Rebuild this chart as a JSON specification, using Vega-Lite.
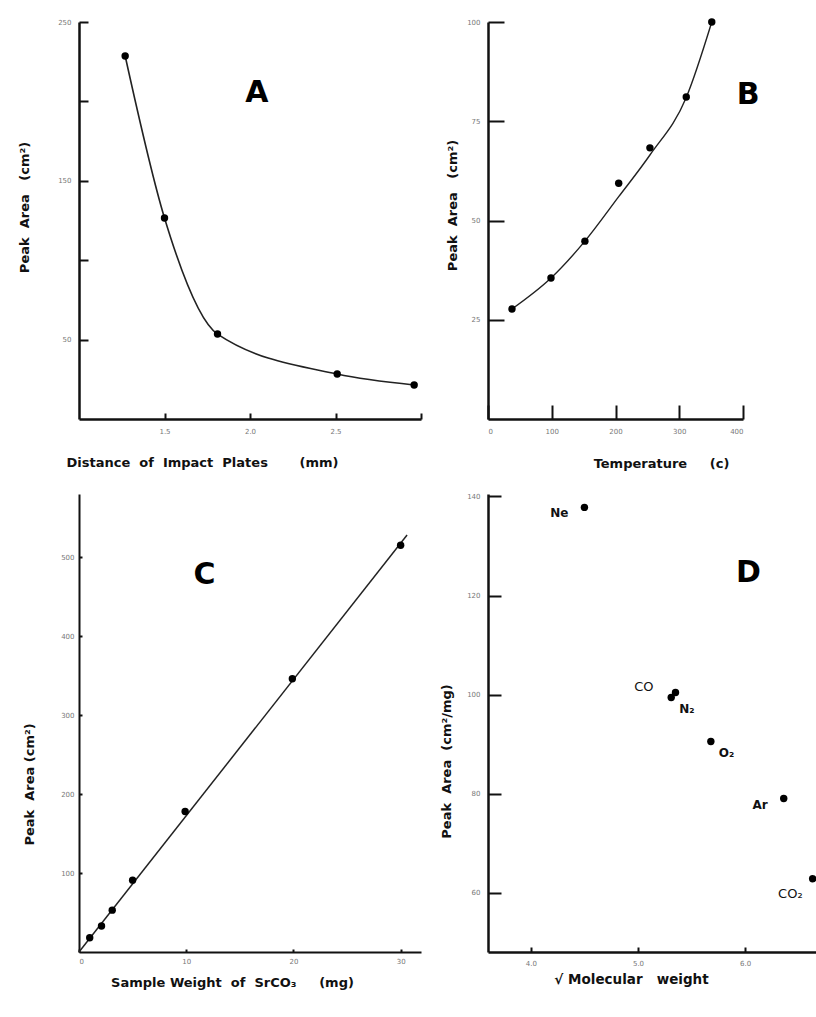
{
  "$schema": "https://vega.github.io/schema/vega-lite/v6.json",
  "autosize": {"type": "pad"},
  "padding": {"left": 18, "top": 18, "right": 0, "bottom": 5},
  "background": "white",
  "bounds": "flush",
  "align": "each",
  "columns": 2,
  "spacing": {"column": 67, "row": 75},
  "config": {
    "view": {"stroke": null},
    "axis": {
      "grid": false,
      "domainColor": "#111",
      "domainWidth": 2.5,
      "tickColor": "#111",
      "tickWidth": 2,
      "labelFont": "DejaVu Sans",
      "labelFontSize": 7,
      "labelColor": "#777",
      "titleFont": "DejaVu Sans",
      "titleFontWeight": "bold",
      "titleFontSize": 13,
      "titleColor": "#111",
      "titleAlign": "center",
      "titleBaseline": "middle"
    },
    "text": {"font": "DejaVu Sans"}
  },
  "concat": [
    {
      "width": 342,
      "height": 397,
      "layer": [
        {
          "data": {"values": [
            {"d": 1.27, "a": 228.6}, {"d": 1.5, "a": 126.6}, {"d": 1.81, "a": 53.5}, {"d": 2.51, "a": 28.3}, {"d": 2.96, "a": 21.4}
          ]},
          "mark": {"type": "line", "interpolate": "monotone", "color": "#222", "strokeWidth": 1.6},
          "encoding": {
            "x": {"field": "d", "type": "quantitative", "scale": {"domain": [1, 3], "nice": false},
              "axis": {"values": [1.5, 2, 2.5, 3], "tickSize": -6, "labelPadding": 14, "labelExpr": "datum.value == 3 ? '' : format(datum.value, '.1f')",
                "title": "Distance\u00a0\u00a0of\u00a0\u00a0Impact\u00a0\u00a0Plates\u00a0\u00a0\u00a0\u00a0\u00a0\u00a0\u00a0(mm)", "titleX": 123, "titleY": 43}},
            "y": {"field": "a", "type": "quantitative", "scale": {"domain": [0, 250], "nice": false},
              "axis": {"values": [50, 100, 150, 200, 250], "tickSize": -9, "labelPadding": 17, "labelExpr": "datum.value % 100 == 50 ? datum.label : ''",
                "title": "Peak\u00a0\u00a0Area\u00a0\u00a0\u00a0(cm²)", "titleX": -55, "titleY": 185}}
          }
        },
        {
          "data": {"values": [
            {"d": 1.27, "a": 228.6}, {"d": 1.5, "a": 126.6}, {"d": 1.81, "a": 53.5}, {"d": 2.51, "a": 28.3}, {"d": 2.96, "a": 21.4}
          ]},
          "mark": {"type": "point", "filled": true, "color": "#000", "opacity": 1, "size": 55},
          "encoding": {"x": {"field": "d", "type": "quantitative"}, "y": {"field": "a", "type": "quantitative"}}
        },
        {
          "data": {"values": [{"d": 2.04, "a": 205, "t": "A"}]},
          "mark": {"type": "text", "fontSize": 30, "fontWeight": "bold", "color": "#000"},
          "encoding": {"x": {"field": "d", "type": "quantitative"}, "y": {"field": "a", "type": "quantitative"}, "text": {"field": "t"}}
        }
      ]
    },
    {
      "width": 255,
      "height": 397,
      "layer": [
        {
          "data": {"values": [
            {"t": 37.6, "a": 27.7}, {"t": 98.8, "a": 35.5}, {"t": 152, "a": 44.8}, {"t": 205, "a": 56}, {"t": 254, "a": 66.5}, {"t": 311, "a": 81}, {"t": 351, "a": 100}
          ]},
          "mark": {"type": "line", "interpolate": "monotone", "color": "#222", "strokeWidth": 1.4},
          "encoding": {
            "x": {"field": "t", "type": "quantitative", "scale": {"domain": [0, 400], "nice": false},
              "axis": {"values": [0, 100, 200, 300, 400], "tickSize": -14, "labelPadding": 22,
                "title": "Temperature\u00a0\u00a0\u00a0\u00a0\u00a0(c)", "titleX": 173, "titleY": 44}},
            "y": {"field": "a", "type": "quantitative", "scale": {"domain": [0, 100], "nice": false},
              "axis": {"values": [25, 50, 75, 100], "tickSize": -16, "labelPadding": 24,
                "title": "Peak\u00a0\u00a0Area\u00a0\u00a0\u00a0(cm²)", "titleX": -36, "titleY": 183}}
          }
        },
        {
          "data": {"values": [
            {"t": 37.6, "a": 27.7}, {"t": 98.8, "a": 35.5}, {"t": 152, "a": 44.8}, {"t": 205, "a": 59.4}, {"t": 254, "a": 68.3}, {"t": 311, "a": 81.1}, {"t": 351, "a": 100}
          ]},
          "mark": {"type": "point", "filled": true, "color": "#000", "opacity": 1, "size": 55},
          "encoding": {"x": {"field": "t", "type": "quantitative"}, "y": {"field": "a", "type": "quantitative"}}
        },
        {
          "data": {"values": [{"t": 408, "a": 81.6, "l": "B"}]},
          "mark": {"type": "text", "fontSize": 30, "fontWeight": "bold", "color": "#000", "clip": false},
          "encoding": {"x": {"field": "t", "type": "quantitative"}, "y": {"field": "a", "type": "quantitative"}, "text": {"field": "l"}}
        }
      ]
    },
    {
      "width": 342,
      "height": 458,
      "layer": [
        {
          "data": {"values": [{"w": 0, "a": 0}, {"w": 30.6, "a": 528}]},
          "mark": {"type": "line", "color": "#222", "strokeWidth": 1.5},
          "encoding": {
            "x": {"field": "w", "type": "quantitative", "scale": {"domain": [0, 31.9], "nice": false},
              "axis": {"values": [0, 10, 20, 30], "tickSize": -3, "domainWidth": 2, "labelPadding": 8,
                "title": "Sample\u00a0Weight\u00a0\u00a0of\u00a0\u00a0SrCO₃\u00a0\u00a0\u00a0\u00a0\u00a0(mg)", "titleX": 153, "titleY": 30}},
            "y": {"field": "a", "type": "quantitative", "scale": {"domain": [0, 580], "nice": false},
              "axis": {"values": [100, 200, 300, 400, 500], "tickSize": -3, "domainWidth": 2, "labelPadding": 8,
                "title": "Peak\u00a0\u00a0Area\u00a0(cm²)", "titleX": -50, "titleY": 290}}
          }
        },
        {
          "data": {"values": [
            {"w": 1.0, "a": 18}, {"w": 2.1, "a": 33}, {"w": 3.1, "a": 53}, {"w": 5.0, "a": 91}, {"w": 9.9, "a": 178}, {"w": 19.9, "a": 346}, {"w": 30.0, "a": 515}
          ]},
          "mark": {"type": "point", "filled": true, "color": "#000", "opacity": 1, "size": 55},
          "encoding": {"x": {"field": "w", "type": "quantitative"}, "y": {"field": "a", "type": "quantitative"}}
        },
        {
          "data": {"values": [{"w": 11.7, "a": 477, "l": "C"}]},
          "mark": {"type": "text", "fontSize": 30, "fontWeight": "bold", "color": "#000"},
          "encoding": {"x": {"field": "w", "type": "quantitative"}, "y": {"field": "a", "type": "quantitative"}, "text": {"field": "l"}}
        }
      ]
    },
    {
      "width": 330,
      "height": 458,
      "layer": [
        {
          "data": {"values": [
            {"m": 4.5, "a": 137.8, "gas": "Ne"}, {"m": 5.35, "a": 100.4, "gas": "CO"}, {"m": 5.31, "a": 99.4, "gas": "N₂"},
            {"m": 5.68, "a": 90.5, "gas": "O₂"}, {"m": 6.36, "a": 79, "gas": "Ar"}, {"m": 6.63, "a": 62.8, "gas": "CO₂"}
          ]},
          "mark": {"type": "point", "filled": true, "color": "#000", "opacity": 1, "size": 55},
          "encoding": {
            "x": {"field": "m", "type": "quantitative", "scale": {"domain": [3.6, 6.68], "nice": false},
              "axis": {"values": [4, 5, 6], "format": ".1f", "tickSize": -5, "labelPadding": 12,
                "title": "√\u00a0Molecular\u00a0\u00a0\u00a0weight", "titleX": 143, "titleY": 27, "titleFontSize": 13.5}},
            "y": {"field": "a", "type": "quantitative", "scale": {"domain": [48, 140.5], "nice": false},
              "axis": {"values": [60, 80, 100, 120, 140], "tickSize": -13, "labelPadding": 21,
                "title": "Peak\u00a0\u00a0Area\u00a0\u00a0(cm²/mg)", "titleX": -42, "titleY": 267}}
          }
        },
        {
          "data": {"values": [{"m": 6.03, "a": 124.6, "l": "D"}]},
          "mark": {"type": "text", "fontSize": 30, "fontWeight": "bold", "color": "#000"},
          "encoding": {"x": {"field": "m", "type": "quantitative"}, "y": {"field": "a", "type": "quantitative"}, "text": {"field": "l"}}
        },
        {
          "data": {"values": [
            {"m": 4.5, "a": 137.8, "gas": "Ne"}, {"m": 5.35, "a": 100.4, "gas": "CO"}, {"m": 5.31, "a": 99.4, "gas": "N₂"},
            {"m": 5.68, "a": 90.5, "gas": "O₂"}, {"m": 6.36, "a": 79, "gas": "Ar"}, {"m": 6.63, "a": 62.8, "gas": "CO₂"}
          ]},
          "transform": [{"filter": "datum.gas == 'Ne' || datum.gas == 'Ar'"}],
          "mark": {"type": "text", "align": "right", "baseline": "middle", "dx": -16, "dy": 6, "fontSize": 12, "fontWeight": "bold", "color": "#111"},
          "encoding": {"x": {"field": "m", "type": "quantitative"}, "y": {"field": "a", "type": "quantitative"}, "text": {"field": "gas"}}
        },
        {
          "data": {"values": [
            {"m": 4.5, "a": 137.8, "gas": "Ne"}, {"m": 5.35, "a": 100.4, "gas": "CO"}, {"m": 5.31, "a": 99.4, "gas": "N₂"},
            {"m": 5.68, "a": 90.5, "gas": "O₂"}, {"m": 6.36, "a": 79, "gas": "Ar"}, {"m": 6.63, "a": 62.8, "gas": "CO₂"}
          ]},
          "transform": [{"filter": "datum.gas == 'CO'"}],
          "mark": {"type": "text", "align": "right", "baseline": "middle", "dx": -22, "dy": -6, "fontSize": 13, "color": "#111"},
          "encoding": {"x": {"field": "m", "type": "quantitative"}, "y": {"field": "a", "type": "quantitative"}, "text": {"field": "gas"}}
        },
        {
          "data": {"values": [
            {"m": 4.5, "a": 137.8, "gas": "Ne"}, {"m": 5.35, "a": 100.4, "gas": "CO"}, {"m": 5.31, "a": 99.4, "gas": "N₂"},
            {"m": 5.68, "a": 90.5, "gas": "O₂"}, {"m": 6.36, "a": 79, "gas": "Ar"}, {"m": 6.63, "a": 62.8, "gas": "CO₂"}
          ]},
          "transform": [{"filter": "datum.gas == 'CO₂'"}],
          "mark": {"type": "text", "align": "right", "baseline": "middle", "dx": -10, "dy": 15, "fontSize": 13, "color": "#111"},
          "encoding": {"x": {"field": "m", "type": "quantitative"}, "y": {"field": "a", "type": "quantitative"}, "text": {"field": "gas"}}
        },
        {
          "data": {"values": [
            {"m": 4.5, "a": 137.8, "gas": "Ne"}, {"m": 5.35, "a": 100.4, "gas": "CO"}, {"m": 5.31, "a": 99.4, "gas": "N₂"},
            {"m": 5.68, "a": 90.5, "gas": "O₂"}, {"m": 6.36, "a": 79, "gas": "Ar"}, {"m": 6.63, "a": 62.8, "gas": "CO₂"}
          ]},
          "transform": [{"filter": "datum.gas == 'N₂' || datum.gas == 'O₂'"}],
          "mark": {"type": "text", "align": "left", "baseline": "middle", "dx": 8, "dy": 11, "fontSize": 12, "fontWeight": "bold", "color": "#111"},
          "encoding": {"x": {"field": "m", "type": "quantitative"}, "y": {"field": "a", "type": "quantitative"}, "text": {"field": "gas"}}
        }
      ]
    }
  ]
}
